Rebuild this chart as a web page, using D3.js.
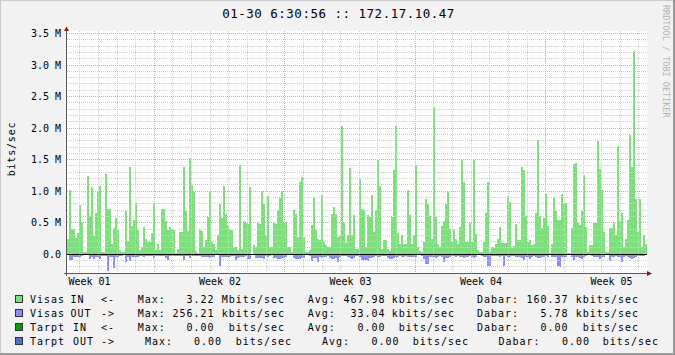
<!DOCTYPE html>
<html>
<head>
<meta charset="utf-8">
<script src="https://cdn.jsdelivr.net/npm/d3@7"></script>
<style>
  body { margin: 0; background: #fff; }
  svg text { font-family: "DejaVu Sans Mono", monospace; }
</style>
</head>
<body>
<svg id="chart"></svg>
<script>
// traffic in Mbit/s, one value per sample (oldest first)
const visasIn = [
  0.24,1.02,0.40,0.40,0.26,0.33,0.78,0.51,0.03,0.04,
  1.24,0.60,1.07,0.29,0.65,1.00,1.08,0.04,0.04,1.27,
  0.71,0.71,0.17,0.41,0.57,0.39,0.07,0.04,0.04,0.69,
  0.21,1.38,0.45,0.55,0.81,0.39,0.07,0.12,0.43,0.24,
  0.20,0.20,0.33,0.82,0.07,0.16,0.06,0.71,0.71,0.52,
  0.39,0.44,0.39,0.39,0.02,0.08,0.36,0.36,1.38,0.68,
  0.37,1.52,1.10,0.99,0.05,0.02,0.39,0.37,0.12,0.23,
  0.59,0.99,0.20,0.17,0.07,0.30,0.79,0.57,1.09,0.64,
  0.46,0.38,0.38,0.12,0.12,0.07,1.41,0.09,0.52,0.49,
  0.48,1.06,0.01,0.14,0.12,0.49,0.48,1.00,0.79,0.30,
  0.92,0.12,0.11,0.49,0.48,0.70,0.90,1.00,0.49,0.51,
  0.12,0.12,0.04,0.70,0.64,0.27,1.15,1.23,0.27,0.04,
  0.04,0.06,0.46,0.90,0.38,0.25,0.22,0.94,0.20,0.15,
  0.12,0.12,0.64,0.75,0.64,0.27,0.30,2.03,0.49,0.18,
  0.30,1.37,0.30,0.63,0.09,0.09,1.20,0.71,0.70,0.12,
  0.63,0.59,0.94,0.35,0.70,1.50,1.08,0.09,0.23,0.23,
  0.09,0.05,0.59,1.34,2.03,0.33,0.17,0.30,0.17,0.17,
  1.02,0.62,0.17,0.30,1.41,0.12,0.05,0.04,0.20,0.88,
  0.79,0.60,0.25,2.33,0.59,0.17,0.12,0.45,0.52,0.80,
  0.98,0.40,0.20,0.39,0.25,0.17,0.43,1.50,1.15,0.20,
  0.20,0.49,0.20,1.50,0.32,0.07,0.04,0.04,0.20,0.65,
  1.15,0.03,0.12,0.10,0.16,0.25,0.44,0.18,0.18,0.18,
  0.92,0.83,0.10,0.13,0.48,0.23,0.23,1.38,1.33,0.61,
  0.20,0.22,0.15,0.17,0.66,1.81,0.60,0.41,0.57,0.96,
  0.45,0.02,0.16,0.90,0.68,0.55,0.55,0.96,0.81,0.81,
  0.02,0.02,0.41,1.43,1.45,0.50,0.46,0.69,1.26,0.44,
  0.04,0.15,0.15,0.49,0.49,1.80,1.35,1.02,0.36,0.04,
  0.04,0.41,0.41,0.50,0.31,1.72,0.52,0.65,0.12,0.25,
  0.54,1.89,1.39,3.22,0.87,0.36,0.87,0.12,0.31,0.16
]

// outgoing traffic, drawn below zero
const visasOut = [
  0.00,0.09,0.09,0.04,0.04,0.04,0.04,0.03,0.01,0.01,
  0.01,0.08,0.05,0.08,0.05,0.05,0.08,0.03,0.03,0.03,
  0.26,0.05,0.05,0.21,0.04,0.04,0.03,0.03,0.01,0.12,
  0.04,0.11,0.05,0.05,0.04,0.04,0.02,0.03,0.04,0.02,
  0.02,0.02,0.02,0.06,0.02,0.02,0.02,0.03,0.03,0.06,
  0.09,0.03,0.03,0.02,0.02,0.02,0.02,0.02,0.09,0.03,
  0.03,0.06,0.03,0.03,0.02,0.02,0.02,0.04,0.04,0.04,
  0.04,0.06,0.04,0.04,0.01,0.01,0.19,0.04,0.04,0.04,
  0.04,0.04,0.03,0.03,0.09,0.06,0.04,0.04,0.04,0.03,
  0.07,0.07,0.01,0.01,0.06,0.06,0.06,0.06,0.08,0.03,
  0.04,0.03,0.01,0.06,0.06,0.08,0.08,0.06,0.06,0.04,
  0.01,0.01,0.01,0.06,0.08,0.08,0.08,0.06,0.06,0.01,
  0.01,0.02,0.10,0.06,0.06,0.12,0.04,0.06,0.04,0.04,
  0.02,0.06,0.08,0.08,0.06,0.12,0.04,0.03,0.03,0.03,
  0.04,0.06,0.08,0.06,0.02,0.02,0.04,0.09,0.09,0.09,
  0.11,0.06,0.06,0.04,0.02,0.04,0.05,0.02,0.03,0.02,
  0.06,0.08,0.08,0.06,0.05,0.04,0.03,0.04,0.04,0.02,
  0.05,0.04,0.04,0.04,0.04,0.01,0.01,0.03,0.08,0.15,
  0.15,0.05,0.04,0.04,0.06,0.05,0.03,0.05,0.13,0.06,
  0.06,0.05,0.03,0.03,0.04,0.03,0.04,0.05,0.06,0.04,
  0.04,0.02,0.05,0.06,0.04,0.01,0.01,0.02,0.04,0.05,
  0.18,0.19,0.02,0.03,0.03,0.03,0.04,0.03,0.19,0.03,
  0.04,0.05,0.02,0.02,0.04,0.04,0.05,0.06,0.09,0.05,
  0.04,0.07,0.04,0.03,0.04,0.06,0.06,0.05,0.04,0.03,
  0.04,0.01,0.04,0.04,0.05,0.19,0.20,0.05,0.04,0.04,
  0.01,0.01,0.05,0.09,0.05,0.04,0.06,0.08,0.05,0.03,
  0.01,0.01,0.03,0.05,0.04,0.05,0.07,0.04,0.04,0.01,
  0.01,0.10,0.04,0.04,0.03,0.04,0.05,0.13,0.05,0.03,
  0.04,0.06,0.08,0.06,0.04,0.03,0.02,0.02,0.02,0.01
]

const yTickValues = [0, 0.5, 1.0, 1.5, 2.0, 2.5, 3.0, 3.5]
const yTickLabels = ["0.0", "0.5 M", "1.0 M", "1.5 M", "2.0 M", "2.5 M", "3.0 M", "3.5 M"]
const weekLabels = ["Week 01", "Week 02", "Week 03", "Week 04", "Week 05"]

const legendNames = ["Visas IN", "Visas OUT", "Tarpt IN", "Tarpt OUT"]
const legendArrows = ["<-", "->", "<-", "->"]
const legendColors = ["#7fdf7f", "#8c8cff", "#00a000", "#4d6fd0"]
const legendMax = ["3.22", "256.21", "0.00", "0.00"]
const legendMaxUnit = ["Mbits/sec", "kbits/sec", "bits/sec", "bits/sec"]
const legendAvg = ["467.98", "33.04", "0.00", "0.00"]
const legendAvgUnit = ["kbits/sec", "kbits/sec", "bits/sec", "bits/sec"]
const legendLast = ["160.37", "5.78", "0.00", "0.00"]
const legendLastUnit = ["kbits/sec", "kbits/sec", "bits/sec", "bits/sec"]

const width = 675
const height = 355
const SAMPLE_H = 2.575        // hours per sample
const FIRST_MIDNIGHT = 16.4   // hours from first sample to first day line

const svg = d3.select("#chart")
    .attr("width", width)
    .attr("height", height)

// canvas + shading frame
svg.append("rect").attr("width", width).attr("height", height).attr("fill", "#f2f2f2")
svg.append("path").attr("d", `M0,${height} V0 H${width}`).attr("fill", "none")
    .attr("stroke", "#cbcbcb").attr("stroke-width", 2)
svg.append("path").attr("d", `M0,${height - 1} H${width - 1} V0`).attr("fill", "none")
    .attr("stroke", "#999").attr("stroke-width", 2)

const x = d3.scaleLinear()
    .domain([0, visasIn.length * SAMPLE_H])
    .range([67, 647])

const y = d3.scaleLinear()
    .domain([-0.3, 3.5])
    .range([273.2, 33.5])

svg.append("rect")
    .attr("x", 67).attr("y", 31)
    .attr("width", 580).attr("height", 242)
    .attr("fill", "#fff")

const plot = svg.append("g").attr("shape-rendering", "crispEdges")

// incoming (green, above zero)
plot.selectAll("rect.in")
    .data(visasIn)
    .join("rect")
    .attr("class", "in")
    .attr("x", (d, i) => x(i * SAMPLE_H))
    .attr("width", (d, i) => x((i + 1) * SAMPLE_H) - x(i * SAMPLE_H))
    .attr("y", d => y(d))
    .attr("height", d => y(0) - y(d))
    .attr("fill", legendColors[0])

// outgoing (blue, below zero)
plot.selectAll("rect.out")
    .data(visasOut)
    .join("rect")
    .attr("class", "out")
    .attr("x", (d, i) => x(i * SAMPLE_H))
    .attr("width", (d, i) => x((i + 1) * SAMPLE_H) - x(i * SAMPLE_H))
    .attr("y", y(0))
    .attr("height", d => y(-d) - y(0))
    .attr("fill", legendColors[1])

// grid on top of the data, like rrdtool
const grid = svg.append("g").attr("shape-rendering", "crispEdges").attr("fill", "none")
const hLines = d3.range(-2, 36).map(k => k / 10)
grid.selectAll("line.h")
    .data(hLines)
    .join("line")
    .attr("x1", 67).attr("x2", 647)
    .attr("y1", d => y(d)).attr("y2", d => y(d))
    .attr("stroke", d => Math.round(d * 10) % 5 === 0 ? "#e4a4a4" : "#cdcdcd")
    .attr("stroke-dasharray", "1,1")

const dayLines = d3.range(FIRST_MIDNIGHT, visasIn.length * SAMPLE_H, 24)
grid.selectAll("line.v")
    .data(dayLines)
    .join("line")
    .attr("x1", d => x(d)).attr("x2", d => x(d))
    .attr("y1", 31).attr("y2", 273)
    .attr("stroke", (d, i) => i % 7 === 4 ? "#e4a4a4" : "#cdcdcd")
    .attr("stroke-dasharray", "1,1")

// zero line
grid.append("line")
    .attr("x1", 67).attr("x2", 647)
    .attr("y1", y(0)).attr("y2", y(0))
    .attr("stroke", "#000")

// axes
grid.append("line").attr("x1", 66.5).attr("x2", 66.5).attr("y1", 276).attr("y2", 30)
    .attr("stroke", "#5a5a5a")
grid.append("line").attr("x1", 64).attr("x2", 648).attr("y1", 273.5).attr("y2", 273.5)
    .attr("stroke", "#5a5a5a")
svg.append("path").attr("d", "M64,31 L66.5,26.5 L69,31 Z").attr("fill", "#8b1c1c")
svg.append("path").attr("d", "M647,271 L652,273.5 L647,276 Z").attr("fill", "#8b1c1c")

// y labels
const yAxis = svg.append("g")
    .attr("transform", "translate(64,0)")
    .call(d3.axisLeft(y).tickValues(yTickValues).tickSize(0).tickPadding(3)
        .tickFormat((d, i) => yTickLabels[i]))
yAxis.select(".domain").remove()
yAxis.selectAll("text")
    .style("font-family", "DejaVu Sans Mono")
    .style("font-size", "10px")
    .attr("fill", "#000")

// week labels, centred in each week
const weekCenters = weekLabels.map((w, j) => FIRST_MIDNIGHT + 24 * (0.5 + 7 * j))
const xAxis = svg.append("g")
    .attr("transform", "translate(0,275)")
    .call(d3.axisBottom(x).tickValues(weekCenters).tickSize(0).tickPadding(3)
        .tickFormat((d, i) => weekLabels[i]))
xAxis.select(".domain").remove()
xAxis.selectAll("text")
    .style("font-family", "DejaVu Sans Mono")
    .style("font-size", "10px")
    .attr("fill", "#000")

// title
svg.append("text")
    .attr("x", 338.5).attr("y", 18.3)
    .attr("text-anchor", "middle")
    .style("font-size", "12.5px")
    .style("letter-spacing", "0.5px")
    .text("01-30 6:30:56 :: 172.17.10.47")

svg.append("text")
    .attr("transform", "translate(15,149) rotate(-90)")
    .attr("text-anchor", "middle")
    .style("font-size", "10px")
    .style("letter-spacing", "0.8px")
    .text("bits/sec")

svg.append("text")
    .attr("transform", "translate(662.5,5) rotate(90)")
    .style("font-size", "8.5px")
    .attr("fill", "#b4b4b4")
    .text("RRDTOOL / TOBI OETIKER")

// legend
const colsA = { max: 137.8, maxNum: 214.5, maxUnit: 285, avg: 307.8, avgNum: 385.5, avgUnit: 455, last: 477, lastNum: 568.5, lastUnit: 639 }
const colsB = { max: 145, maxNum: 222, maxUnit: 292, avg: 322, avgNum: 399.5, avgUnit: 469, last: 498.5, lastNum: 590, lastUnit: 659 }

const legend = svg.append("g")
    .style("font-size", "10px")
    .style("letter-spacing", "1px")

legendNames.forEach((name, i) => {
    const cy = 299.3 + i * 13.9
    const base = cy + 3.7
    const c = i === 3 ? colsB : colsA
    const parts = name.split(" ")
    const row = legend.append("g")

    row.append("rect")
        .attr("x", 15.5).attr("y", cy - 3.5)
        .attr("width", 7).attr("height", 7)
        .attr("fill", legendColors[i])
        .attr("stroke", "#333")
        .attr("shape-rendering", "crispEdges")

    const put = (txt, xx, anchor) => row.append("text")
        .attr("x", xx).attr("y", base)
        .attr("text-anchor", anchor || "start")
        .text(txt)

    put(parts[0], 30)
    put(parts[1], parts[0] === "Visas" ? 70.5 : 73)
    put(legendArrows[i], 101)
    put("Max:", c.max)
    put(legendMax[i], c.maxNum, "end")
    put(legendMaxUnit[i], c.maxUnit, "end")
    put("Avg:", c.avg)
    put(legendAvg[i], c.avgNum, "end")
    put(legendAvgUnit[i], c.avgUnit, "end")
    put("Dabar:", c.last)
    put(legendLast[i], c.lastNum, "end")
    put(legendLastUnit[i], c.lastUnit, "end")
})
</script>
</body>
</html>
